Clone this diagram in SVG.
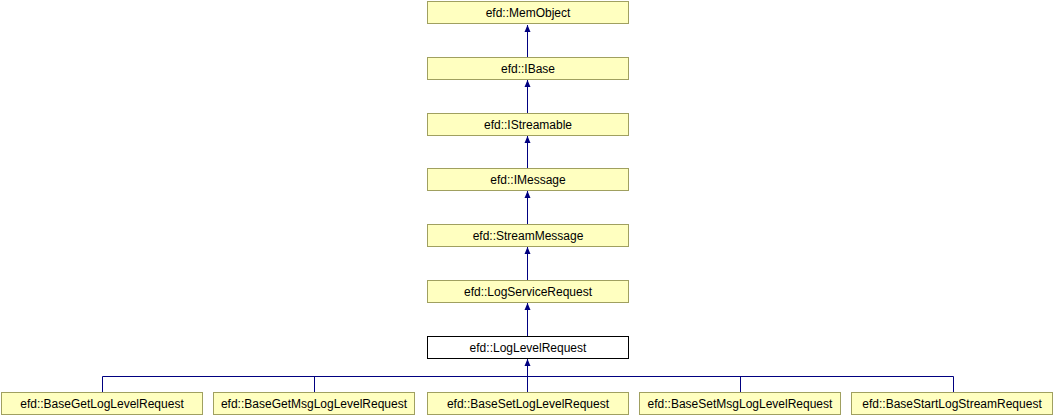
<svg xmlns="http://www.w3.org/2000/svg" width="1055" height="416" viewBox="0 0 1055 416">
<style>
.n rect{fill:#ffffc0;stroke:#a0a060;stroke-width:1}
.n.cur rect{fill:#ffffff;stroke:#000000}
.n text{font-family:"Liberation Sans",Arial,sans-serif;font-size:12px;fill:#000;text-anchor:middle}
.e{stroke:#000080;stroke-width:1;fill:none}
</style>
<defs>
<marker id="ah" markerWidth="8" markerHeight="8" refX="7" refY="4" orient="auto" markerUnits="userSpaceOnUse">
<path d="M0,1 L7,4 L0,7 Z" fill="#000080"/>
</marker>
</defs>
<rect width="1055" height="416" fill="#ffffff"/>
<g id="connectors">
<line class="e" x1="527.5" y1="57" x2="527.5" y2="25" marker-end="url(#ah)"/>
<line class="e" x1="527.5" y1="113" x2="527.5" y2="80" marker-end="url(#ah)"/>
<line class="e" x1="527.5" y1="168" x2="527.5" y2="136" marker-end="url(#ah)"/>
<line class="e" x1="527.5" y1="224" x2="527.5" y2="191" marker-end="url(#ah)"/>
<line class="e" x1="527.5" y1="280" x2="527.5" y2="247" marker-end="url(#ah)"/>
<line class="e" x1="527.5" y1="336" x2="527.5" y2="303" marker-end="url(#ah)"/>
<line class="e" x1="527.5" y1="393" x2="527.5" y2="359" marker-end="url(#ah)"/>
<polyline class="e" points="102.5,393 102.5,376.5 953.5,376.5 953.5,393"/>
<line class="e" x1="314.5" y1="376.5" x2="314.5" y2="393"/>
<line class="e" x1="740.5" y1="376.5" x2="740.5" y2="393"/>
</g>
<g id="MemObject" class="n"><rect x="427.5" y="1.5" width="201" height="22"/><text x="528" y="17">efd::MemObject</text></g>
<g id="IBase" class="n"><rect x="427.5" y="57.5" width="201" height="22"/><text x="528" y="73">efd::IBase</text></g>
<g id="IStreamable" class="n"><rect x="427.5" y="113.5" width="201" height="22"/><text x="528" y="129">efd::IStreamable</text></g>
<g id="IMessage" class="n"><rect x="427.5" y="168.5" width="201" height="22"/><text x="528" y="184">efd::IMessage</text></g>
<g id="StreamMessage" class="n"><rect x="427.5" y="224.5" width="201" height="22"/><text x="528" y="240">efd::StreamMessage</text></g>
<g id="LogServiceRequest" class="n"><rect x="427.5" y="280.5" width="201" height="22"/><text x="528" y="296">efd::LogServiceRequest</text></g>
<g id="LogLevelRequest" class="n cur"><rect x="427.5" y="336.5" width="201" height="22"/><text x="528" y="352">efd::LogLevelRequest</text></g>
<g id="BaseGetLogLevelRequest" class="n"><rect x="1.5" y="392.5" width="201" height="22"/><text x="102" y="408">efd::BaseGetLogLevelRequest</text></g>
<g id="BaseGetMsgLogLevelRequest" class="n"><rect x="213.5" y="392.5" width="201" height="22"/><text x="314" y="408">efd::BaseGetMsgLogLevelRequest</text></g>
<g id="BaseSetLogLevelRequest" class="n"><rect x="427.5" y="392.5" width="201" height="22"/><text x="528" y="408">efd::BaseSetLogLevelRequest</text></g>
<g id="BaseSetMsgLogLevelRequest" class="n"><rect x="639.5" y="392.5" width="201" height="22"/><text x="740" y="408">efd::BaseSetMsgLogLevelRequest</text></g>
<g id="BaseStartLogStreamRequest" class="n"><rect x="851.5" y="392.5" width="201" height="22"/><text x="952" y="408">efd::BaseStartLogStreamRequest</text></g>
</svg>
